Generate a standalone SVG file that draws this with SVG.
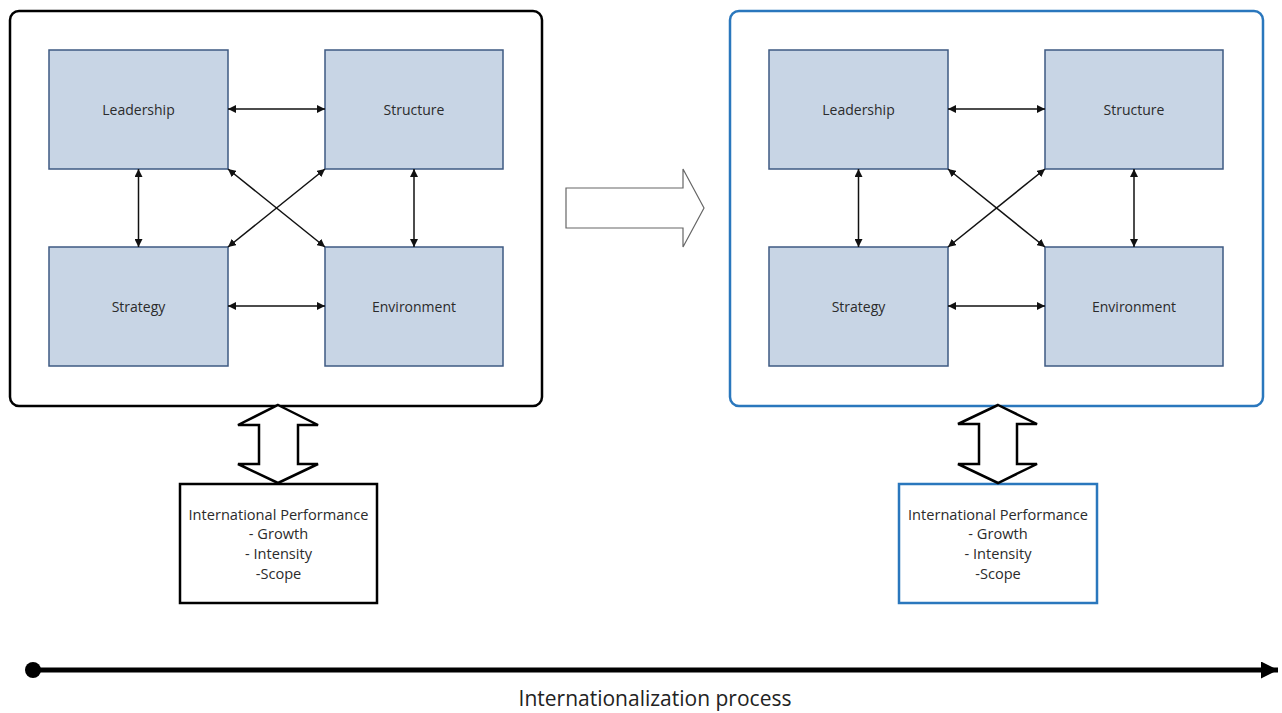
<svg xmlns="http://www.w3.org/2000/svg" width="1282" height="713" viewBox="0 0 1282 713">
<defs>
<marker id="ah" viewBox="0 0 10 10" refX="10" refY="5" markerWidth="8" markerHeight="8" markerUnits="userSpaceOnUse" orient="auto-start-reverse">
<path d="M0,0 L10,5 L0,10 z" fill="#111"/>
</marker>
<marker id="big" viewBox="0 0 10 10" refX="10" refY="5" markerWidth="17" markerHeight="17" markerUnits="userSpaceOnUse" orient="auto">
<path d="M0,0 L10,5 L0,10 z" fill="#000"/>
</marker>
<style>
.node rect{fill:#c8d5e5;stroke:#3e5a82;stroke-width:1.5}
.lbl{font-family:"Open Sans","Liberation Sans",sans-serif;font-size:14px;fill:#2b2b2b;text-anchor:middle;dominant-baseline:central}
.perf{font-size:14.6px}
.con line{stroke:#111;stroke-width:1.5;marker-start:url(#ah);marker-end:url(#ah)}
.hollow{fill:#fff;stroke:#000;stroke-width:2.5;stroke-linejoin:miter}
</style>
</defs>
<rect width="1282" height="713" fill="#fff"/>

<g id="frame-left"><rect x="10" y="11" width="532" height="395" rx="9" fill="none" stroke="#000" stroke-width="2.5"/></g>
<g id="frame-right"><rect x="730" y="11" width="533" height="395" rx="9" fill="none" stroke="#2a77bd" stroke-width="2.5"/></g>

<g id="leadership-1" class="node"><rect x="49" y="50" width="179" height="119"/><text class="lbl" x="138.5" y="109">Leadership</text></g>
<g id="structure-1" class="node"><rect x="325" y="50" width="178" height="119"/><text class="lbl" x="414" y="109">Structure</text></g>
<g id="strategy-1" class="node"><rect x="49" y="247" width="179" height="119"/><text class="lbl" x="138.5" y="306">Strategy</text></g>
<g id="environment-1" class="node"><rect x="325" y="247" width="178" height="119"/><text class="lbl" x="414" y="306">Environment</text></g>

<g id="leadership-2" class="node"><rect x="769" y="50" width="179" height="119"/><text class="lbl" x="858.5" y="109">Leadership</text></g>
<g id="structure-2" class="node"><rect x="1045" y="50" width="178" height="119"/><text class="lbl" x="1134" y="109">Structure</text></g>
<g id="strategy-2" class="node"><rect x="769" y="247" width="179" height="119"/><text class="lbl" x="858.5" y="306">Strategy</text></g>
<g id="environment-2" class="node"><rect x="1045" y="247" width="178" height="119"/><text class="lbl" x="1134" y="306">Environment</text></g>

<g id="performance-1"><rect x="180" y="484" width="197" height="119" fill="#fff" stroke="#000" stroke-width="2.5"/>
<text class="lbl perf" x="278.5" y="514">International Performance</text>
<text class="lbl perf" x="278.5" y="533">- Growth</text>
<text class="lbl perf" x="278.5" y="553">- Intensity</text>
<text class="lbl perf" x="278.5" y="573">-Scope</text></g>
<g id="performance-2"><rect x="899" y="484" width="198" height="119" fill="#fff" stroke="#2a77bd" stroke-width="2.5"/>
<text class="lbl perf" x="998" y="514">International Performance</text>
<text class="lbl perf" x="998" y="533">- Growth</text>
<text class="lbl perf" x="998" y="553">- Intensity</text>
<text class="lbl perf" x="998" y="573">-Scope</text></g>

<g id="connectors">
<g class="con">
<line x1="228" y1="109" x2="325" y2="109"/>
<line x1="228" y1="306" x2="325" y2="306"/>
<line x1="138.5" y1="169" x2="138.5" y2="247"/>
<line x1="414" y1="169" x2="414" y2="247"/>
<line x1="228" y1="169" x2="325" y2="247"/>
<line x1="325" y1="169" x2="228" y2="247"/>
<line x1="948" y1="109" x2="1045" y2="109"/>
<line x1="948" y1="306" x2="1045" y2="306"/>
<line x1="858.5" y1="169" x2="858.5" y2="247"/>
<line x1="1134" y1="169" x2="1134" y2="247"/>
<line x1="948" y1="169" x2="1045" y2="247"/>
<line x1="1045" y1="169" x2="948" y2="247"/>
</g>
<path class="hollow" d="M278,405 L318,425 L298,425 L298,464 L318,464 L278,483 L238,464 L259,464 L259,425 L238,425 Z"/>
<path class="hollow" d="M998,405 L1037,424 L1017,424 L1017,464 L1037,464 L998,483 L958,464 L979,464 L979,424 L958,424 Z"/>
<path d="M566,188 L683,188 L683,169 L704,208 L683,247 L683,228 L566,228 Z" fill="#fff" stroke="#666" stroke-width="1.2"/>
<circle cx="33" cy="670" r="8" fill="#000"/>
<line x1="33" y1="670" x2="1278" y2="670" stroke="#000" stroke-width="5" marker-end="url(#big)"/>
</g>
<text x="655" y="698" font-family="'Open Sans','Liberation Sans',sans-serif" font-size="21" fill="#222" text-anchor="middle" dominant-baseline="central">Internationalization process</text>
</svg>
